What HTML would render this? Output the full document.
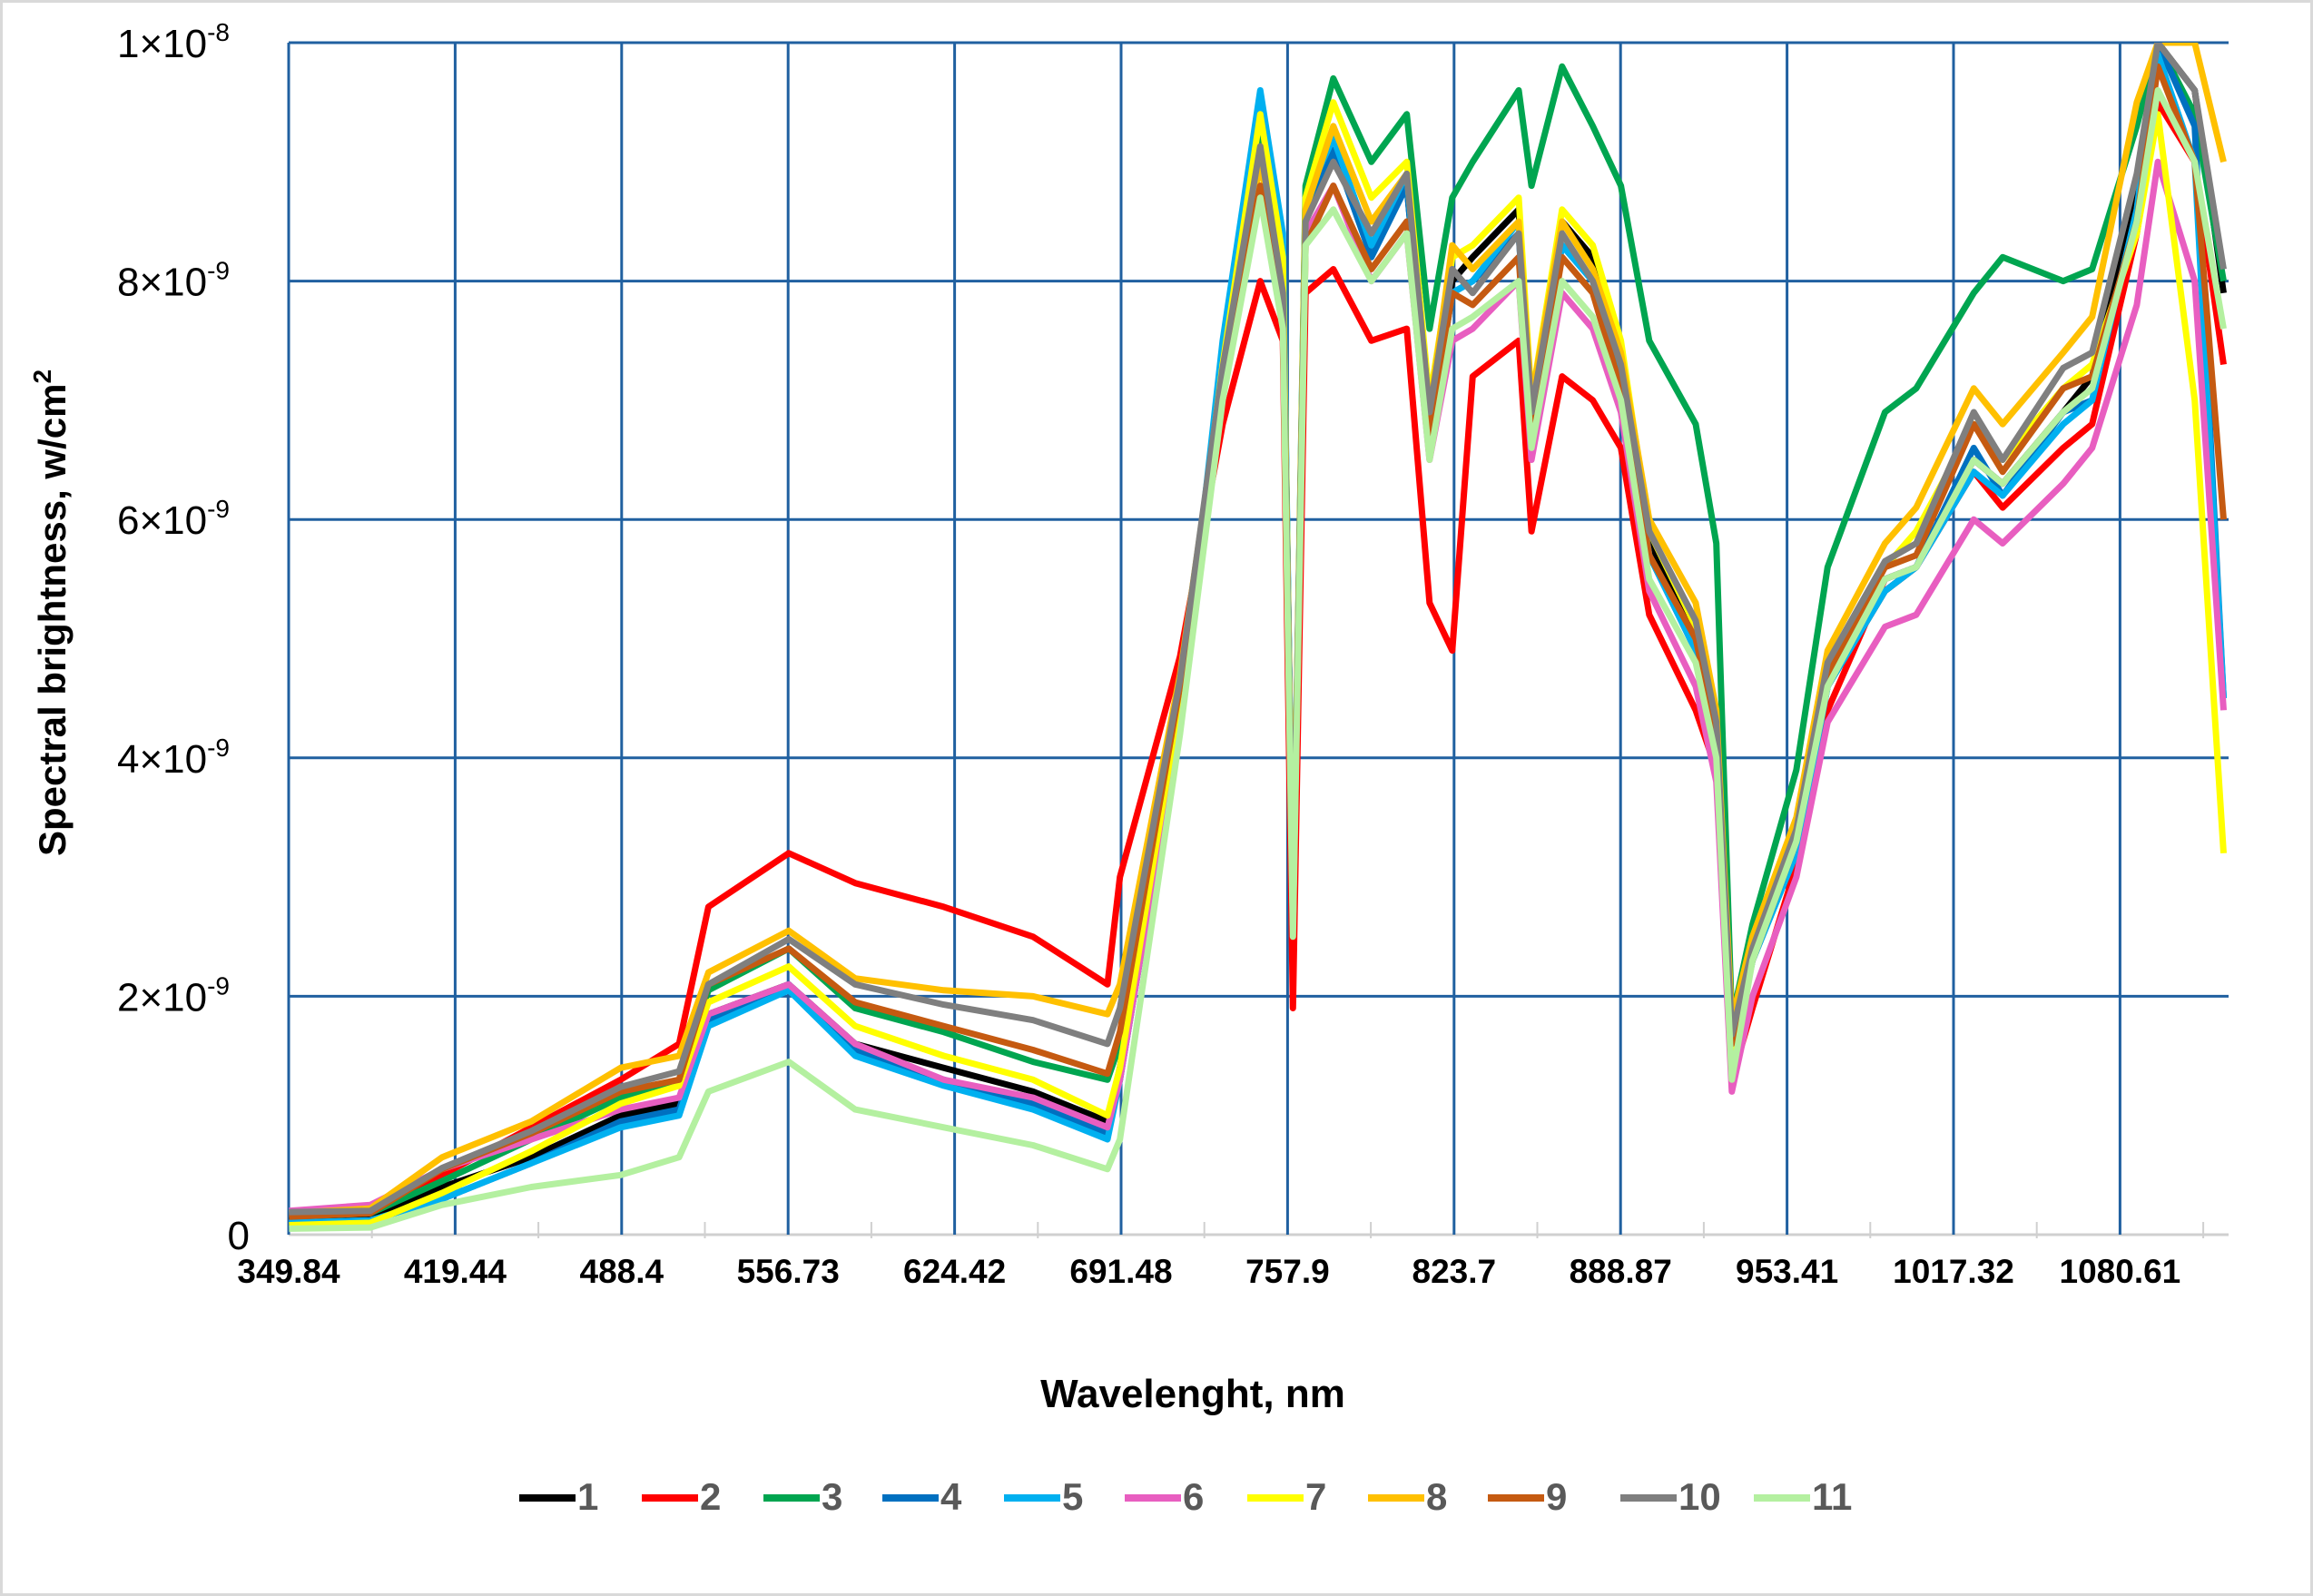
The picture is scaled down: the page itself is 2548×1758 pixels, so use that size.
<!DOCTYPE html>
<html><head><meta charset="utf-8"><style>
html,body{margin:0;padding:0;background:#fff;}
svg{display:block;font-family:"Liberation Sans",sans-serif;}
</style></head><body>
<svg id="chart" width="2548" height="1758" viewBox="0 0 2548 1758" xmlns="http://www.w3.org/2000/svg">
<rect x="1.5" y="1.5" width="2545" height="1755" fill="#fff" stroke="#d9d9d9" stroke-width="3"/>
<g id="grid"></g>
<g id="xticks"></g>
<g id="yticks"></g>
<defs><clipPath id="clip"><rect x="318" y="47" width="2137" height="1313"/></clipPath></defs>
<g id="series" clip-path="url(#clip)"></g>
<text x="1314" y="1550" text-anchor="middle" font-weight="bold" font-size="44" fill="#000">Wavelenght, nm</text>
<text transform="translate(72,675) rotate(-90)" text-anchor="middle" font-weight="bold" font-size="42" fill="#000">Spectral brightness,  w/cm<tspan font-size="28" dy="-16">2</tspan></text>
<g id="legend"></g>
</svg>
<script>
const tickLabels=["349.84","419.44","488.4","556.73","624.42","691.48","757.9","823.7","888.87","953.41","1017.32","1080.61"];
const tickWl=[349.84,419.44,488.4,556.73,624.42,691.48,757.9,823.7,888.87,953.41,1017.32,1080.61,1143.9];
const yTicks=[0,2,4,6,8,10];
const yTickLabels=["0","2×10","4×10","6×10","8×10","1×10"];
const yTickExp=["","-9","-9","-9","-9","-8"];
const wl=[350,384,414,451,488,512,524,557,584,620,656,686,691,715,732,747,756,760,765,776,791,805,814,823,831,849,854,866,878,889,900,918,926,932,940,957,969,991,1003,1025,1036,1059,1070,1087,1095,1109,1120];
const s1=[0.12,0.15,0.4,0.65,1.0,1.1,1.85,2.1,1.6,1.4,1.2,0.95,1.4,4.4,7.3,9.4,8.2,2.6,8.6,9.1,8.3,8.8,6.8,8.0,8.2,8.6,6.9,8.5,8.2,7.3,5.8,5.0,4.1,1.5,2.3,3.3,4.6,5.4,5.6,6.5,6.3,6.9,7.2,8.8,10.0,9.6,7.9];
const s2=[0.15,0.2,0.5,0.9,1.3,1.6,2.75,3.2,2.95,2.75,2.5,2.1,3.0,4.85,6.8,8.0,7.5,1.9,7.9,8.1,7.5,7.6,5.3,4.9,7.2,7.5,5.9,7.2,7.0,6.6,5.2,4.4,3.9,1.3,1.9,3.1,4.4,5.5,5.6,6.4,6.1,6.6,6.8,8.4,9.5,9.0,7.3];
const s3=[0.15,0.18,0.45,0.8,1.15,1.3,2.05,2.4,1.9,1.7,1.45,1.3,1.6,4.4,7.2,9.3,8.2,2.6,8.8,9.7,9.0,9.4,7.6,8.7,9.0,9.6,8.8,9.8,9.3,8.8,7.5,6.8,5.8,1.8,2.6,3.9,5.6,6.9,7.1,7.9,8.2,8.0,8.1,9.3,10.0,9.4,8.0];
const s4=[0.1,0.12,0.3,0.6,0.95,1.05,1.8,2.1,1.55,1.3,1.1,0.85,1.3,4.3,7.4,9.5,8.3,2.6,8.6,9.1,8.2,8.8,6.7,7.9,8.0,8.4,6.8,8.3,8.0,7.2,5.7,4.9,4.0,1.45,2.3,3.2,4.6,5.5,5.6,6.6,6.2,6.9,7.0,8.6,10.0,9.3,4.5];
const s5=[0.1,0.12,0.3,0.6,0.9,1.0,1.75,2.05,1.5,1.25,1.05,0.8,1.3,4.3,7.5,9.6,8.4,2.6,8.7,9.2,8.3,8.9,6.7,7.9,8.0,8.5,6.9,8.3,8.0,7.2,5.7,4.9,4.0,1.45,2.3,3.2,4.6,5.4,5.6,6.4,6.2,6.8,7.0,8.6,9.9,9.0,4.5];
const s6=[0.2,0.25,0.55,0.8,1.05,1.15,1.85,2.1,1.6,1.3,1.15,0.9,1.3,4.3,7.3,9.0,8.0,2.6,8.4,8.8,8.0,8.4,6.5,7.5,7.6,8.0,6.5,7.9,7.6,6.9,5.4,4.6,3.8,1.2,2.0,3.0,4.3,5.1,5.2,6.0,5.8,6.3,6.6,7.8,9.0,8.0,4.4];
const s7=[0.08,0.1,0.35,0.7,1.1,1.25,1.95,2.25,1.75,1.5,1.3,1.0,1.4,4.5,7.3,9.4,8.2,2.6,8.7,9.5,8.7,9.0,7.0,8.2,8.3,8.7,7.0,8.6,8.3,7.5,5.9,5.1,4.2,1.5,2.4,3.4,4.8,5.6,5.9,6.8,6.5,7.1,7.3,8.4,9.4,7.0,3.2];
const s8=[0.18,0.22,0.65,0.95,1.4,1.5,2.2,2.55,2.15,2.05,2.0,1.85,2.1,4.7,7.2,9.0,7.9,2.7,8.6,9.3,8.5,8.9,6.9,8.3,8.1,8.5,7.0,8.5,8.1,7.4,6.0,5.3,4.4,1.8,2.5,3.5,4.9,5.8,6.1,7.1,6.8,7.4,7.7,9.5,10.0,10.0,9.0];
const s9=[0.15,0.18,0.55,0.85,1.2,1.3,2.1,2.4,1.95,1.75,1.55,1.35,1.7,4.6,7.2,8.8,7.8,2.6,8.3,8.8,8.1,8.5,6.7,7.9,7.8,8.2,6.7,8.2,7.9,7.1,5.7,5.0,4.2,1.6,2.3,3.3,4.7,5.6,5.7,6.8,6.4,7.1,7.2,8.5,9.8,9.0,6.0];
const s10=[0.19,0.2,0.56,0.87,1.24,1.37,2.1,2.48,2.1,1.93,1.8,1.6,1.9,4.66,7.27,9.13,7.9,2.67,8.5,9.0,8.4,8.9,6.9,8.1,7.9,8.4,6.9,8.4,8.0,7.3,5.9,5.15,4.3,1.68,2.4,3.4,4.8,5.65,5.8,6.9,6.5,7.27,7.4,8.9,10.0,9.6,8.1];
const s11=[0.05,0.06,0.25,0.4,0.5,0.65,1.2,1.45,1.05,0.9,0.75,0.55,0.8,4.2,7.0,8.7,7.6,2.5,8.3,8.6,8.0,8.4,6.5,7.6,7.7,8.0,6.6,8.0,7.7,7.0,5.5,4.8,4.0,1.3,2.3,3.3,4.6,5.5,5.6,6.5,6.3,6.9,7.1,8.5,9.6,9.0,7.6];
const seriesNames=["1","2","3","4","5","6","7","8","9","10","11"];
const seriesData=[s1,s2,s3,s4,s5,s6,s7,s8,s9,s10,s11];
const colors=["#000000","#ff0000","#00a550","#0070c0","#00b0f0","#e85ec0","#ffff00","#ffc000","#c55a11","#7f7f7f","#b4f0a0"];

const NS="http://www.w3.org/2000/svg";
const X0=318,STEP=183.4,YB=1360,YT=47,XR=2455;
function xScale(w){
  for(let i=0;i<tickWl.length-1;i++){
    if(w<=tickWl[i+1]||i===tickWl.length-2){
      return X0+STEP*(i+(w-tickWl[i])/(tickWl[i+1]-tickWl[i]));
    }
  }
}
function yScale(v){return YB-(YB-YT)*v/10;}
function mk(tag,attrs,parent){const e=document.createElementNS(NS,tag);for(const k in attrs)e.setAttribute(k,attrs[k]);parent.appendChild(e);return e;}

const grid=document.getElementById('grid');
yTicks.forEach(v=>{
  const l=mk('line',{x1:X0,x2:XR,y1:yScale(v),y2:yScale(v),stroke:v===0?'#d0d0d0':'#2060a0','stroke-width':3},grid);
  
  
});
tickLabels.forEach((t,i)=>{
  const x=xScale(tickWl[i]);
  const l=mk('line',{x1:x,x2:x,y1:YT,y2:YB,stroke:'#2060a0','stroke-width':3},grid);
  
  
});
const xt=document.getElementById('xticks');
for(let i=0;i<tickLabels.length;i++){
  const xm=X0+STEP*(i+0.5);
  const m=mk('line',{x1:xm,x2:xm,y1:YB-14,y2:YB+4,stroke:'#d0d0d0','stroke-width':2},xt);
  
  
  const t=mk('text',{x:xScale(tickWl[i]),y:1413,'text-anchor':'middle','font-size':37,'font-weight':'bold',fill:'#000'},xt);
  t.textContent=tickLabels[i];
  
  
}
const yt=document.getElementById('yticks');
yTicks.forEach((v,i)=>{
  const t=mk('text',{x:i===0?275:253,y:yScale(v)+16,'text-anchor':'end','font-size':44,fill:'#000'},yt);
  t.textContent=yTickLabels[i];
  if(yTickExp[i]){const s=mk('tspan',{'font-size':28,dy:-18},t);s.textContent=yTickExp[i];}
  
  
});
const sg=document.getElementById('series');
seriesData.forEach((d,k)=>{
  const pts=d.map((v,i)=>xScale(wl[i]).toFixed(1)+','+yScale(v).toFixed(1)).join(' ');
  const p=mk('polyline',{points:pts,fill:'none',stroke:colors[k],'stroke-width':7,'stroke-linejoin':'round'},sg);
  
  
});
const lg=document.getElementById('legend');
const legX=[572,707,841,972,1106,1239,1374,1507,1639,1785,1932];
seriesNames.forEach((n,k)=>{
  const g=mk('g',{},lg);
  
  
  mk('line',{x1:legX[k],x2:legX[k]+62,y1:1650,y2:1650,stroke:colors[k],'stroke-width':8},g);
  const t=mk('text',{x:legX[k]+64,y:1663,'font-size':42,'font-weight':'bold',fill:'#595959'},g);
  t.textContent=n;
});
</script>
</body></html>
